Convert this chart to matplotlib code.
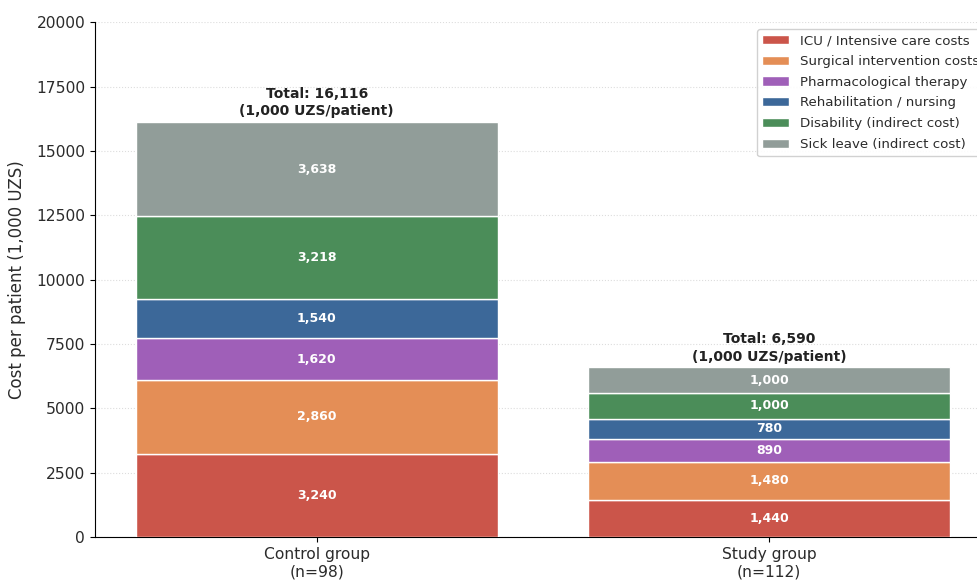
import matplotlib
matplotlib.use("Agg")
import matplotlib.pyplot as plt
import numpy as np

groups = ["Control group\n(n=98)", "Study group\n(n=112)"]
categories = [
    "ICU / Intensive care costs",
    "Surgical intervention costs",
    "Pharmacological therapy",
    "Rehabilitation / nursing",
    "Disability (indirect cost)",
    "Sick leave (indirect cost)",
]
control_costs = [3240, 2860, 1620, 1540, 3218, 3638]
study_costs = [1440, 1480, 890, 780, 1000, 1000]
colors = ["#cb554a", "#e48e56", "#9f5fb8", "#3c6899", "#4b8d59", "#919d99"]

values = np.array([control_costs, study_costs])  # rows: groups, cols: categories

fig = plt.figure(figsize=(9.77, 5.83), dpi=100)
ax = fig.add_axes([0.0972, 0.0789, 0.917, 0.883])

text_color = "#2b2b2b"

x = np.arange(len(groups))
bottoms = np.zeros(len(groups))
for j, (cat, col) in enumerate(zip(categories, colors)):
    vals = values[:, j]
    ax.bar(x, vals, 0.8, bottom=bottoms, color=col, edgecolor="white",
           linewidth=1.0, label=cat, zorder=3)
    for xi, v, b in zip(x, vals, bottoms):
        ax.text(xi, b + v / 2, f"{v:,}", ha="center", va="center",
                color="white", fontsize=9, fontweight="bold", zorder=4)
    bottoms += vals

for xi, total in zip(x, bottoms):
    ax.text(xi, total + 150, f"Total: {int(total):,}\n(1,000 UZS/patient)",
            ha="center", va="bottom", fontsize=10, fontweight="bold",
            color="#222222", linespacing=1.3)

ax.set_ylim(0, 20000)
ax.set_yticks(np.arange(0, 20001, 2500))
ax.set_xticks(x)
ax.set_xticklabels(groups, fontsize=11.2, color=text_color)
ax.tick_params(axis="y", labelsize=11.2, labelcolor=text_color)
ax.set_ylabel("Cost per patient (1,000 UZS)", fontsize=12, color=text_color,
              labelpad=7)
ax.yaxis.grid(True, linestyle=":", color="#dddddd", linewidth=0.8, zorder=0)
ax.set_axisbelow(True)
ax.spines["top"].set_visible(False)
ax.spines["right"].set_visible(False)
leg = ax.legend(loc="upper right", fontsize=9.6, framealpha=0.9,
                labelspacing=0.58)
for t in leg.get_texts():
    t.set_color(text_color)

fig.savefig("out.png", dpi=100)
